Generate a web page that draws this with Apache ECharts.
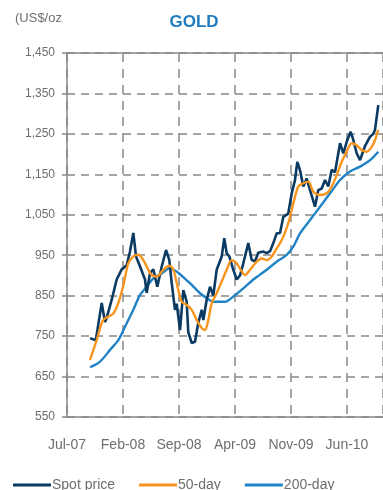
<!DOCTYPE html>
<html>
<head>
<meta charset="utf-8">
<script src="https://cdn.jsdelivr.net/npm/echarts@6/dist/echarts.min.js"></script>
<style>
  html, body { margin: 0; padding: 0; background: #fff; }
  #chart { width: 383px; height: 490px; }
</style>
</head>
<body>
<div id="chart"></div>
<script>
// x values are months elapsed since Jul-07
const monthTicks = ['Jul-07', 'Feb-08', 'Sep-08', 'Apr-09', 'Nov-09', 'Jun-10'];
const tickStep = 7;

// Spot price, US$/oz
const spotPrice = [
  [2.88, 745], [3.6, 740], [4.34, 832], [4.75, 785], [4.96, 795], [5.59, 840],
  [6.21, 890], [6.84, 915], [7.46, 925], [7.88, 960], [8.29, 1005], [8.63, 947],
  [9.13, 922], [9.75, 890], [9.96, 857], [10.38, 906], [10.79, 915], [11.29, 872],
  [11.84, 922], [12.38, 963], [12.79, 938], [13.09, 881], [13.5, 815], [13.71, 830],
  [14.13, 765], [14.54, 864], [14.96, 835], [15.16, 760], [15.59, 733], [16.0, 736],
  [16.41, 783], [16.84, 815], [17.04, 790], [17.46, 840], [17.88, 872], [18.29, 850],
  [18.71, 914], [19.34, 947], [19.66, 992], [19.96, 955], [20.29, 947], [20.79, 914],
  [21.21, 890], [21.63, 900], [22.04, 930], [22.66, 980], [23.09, 938], [23.5, 935],
  [23.91, 956], [24.54, 959], [24.96, 955], [25.38, 960], [25.79, 980], [26.21, 1004],
  [26.63, 1005], [27.04, 1045], [27.66, 1053], [28.09, 1103], [28.5, 1136], [28.79, 1181],
  [29.13, 1160], [29.54, 1120], [29.96, 1140], [30.38, 1111], [31.0, 1070], [31.41, 1111],
  [31.84, 1115], [32.25, 1136], [32.66, 1120], [33.09, 1161], [33.5, 1155], [34.13, 1227],
  [34.54, 1202], [35.04, 1235], [35.46, 1255], [35.79, 1235], [36.21, 1202], [36.63, 1185],
  [37.25, 1220], [37.88, 1243], [38.29, 1250], [38.5, 1260], [38.91, 1321]
];

// 50-day moving average
const ma50 = [
  [2.88, 691], [3.71, 740], [4.54, 790], [5.79, 806], [6.38, 830], [7.04, 875],
  [7.66, 930], [8.29, 947], [8.91, 951], [9.54, 938], [10.16, 914], [10.59, 901],
  [11.21, 897], [12.04, 914], [12.79, 924], [13.29, 915], [13.91, 864], [14.34, 835],
  [14.96, 827], [15.59, 815], [16.21, 790], [16.84, 770], [17.25, 765], [17.66, 790],
  [18.09, 831], [18.71, 856], [19.34, 885], [19.96, 914], [20.59, 938], [21.21, 930],
  [21.84, 910], [22.25, 901], [22.88, 914], [23.71, 934], [24.34, 942], [24.96, 938],
  [25.59, 947], [26.21, 967], [26.63, 980], [27.04, 996], [27.66, 1029], [28.29, 1078],
  [28.91, 1120], [29.54, 1128], [30.16, 1132], [30.79, 1107], [31.63, 1099], [32.46, 1103],
  [33.09, 1120], [33.71, 1148], [34.34, 1181], [34.96, 1206], [35.59, 1227], [36.21, 1222],
  [36.84, 1210], [37.46, 1206], [38.09, 1218], [38.5, 1235], [38.91, 1260]
];

// 200-day moving average
const ma200 = [
  [2.88, 673], [4.13, 687], [5.38, 716], [6.41, 740], [7.25, 773], [8.29, 815],
  [9.13, 852], [9.96, 872], [10.79, 893], [11.84, 905], [12.88, 918], [13.5, 912],
  [14.13, 903], [14.96, 888], [15.38, 881], [16.63, 856], [17.46, 844], [18.29, 835],
  [19.75, 835], [20.79, 848], [22.04, 868], [23.29, 890], [24.13, 902], [24.96, 914],
  [26.21, 934], [27.46, 951], [28.29, 971], [29.13, 1004], [30.38, 1037], [31.63, 1070],
  [32.88, 1103], [34.13, 1136], [35.38, 1157], [36.63, 1169], [37.88, 1185], [38.91, 1206]
];

const FONT = '"Liberation Sans Narrow", "Liberation Sans", Arial, sans-serif';
const GRAY = '#888888';
const TEXT = '#6e6e6e';

const chart = echarts.init(document.getElementById('chart'), null, { renderer: 'canvas' });

chart.setOption({
  animation: false,
  backgroundColor: '#ffffff',
  title: [
    {
      text: 'GOLD', left: 189, top: 9, textAlign: 'center',
      textStyle: { color: '#1f7cc1', fontSize: 17, fontWeight: 'bold', fontFamily: '"Liberation Sans", Arial, sans-serif' }
    },
    {
      text: '(US$/oz', left: 10, top: 7,
      textStyle: { color: TEXT, fontSize: 13, fontWeight: 'normal', fontFamily: FONT }
    }
  ],
  grid: { left: 67, right: 0, top: 53, bottom: 73 },
  legend: {
    bottom: -7, left: 8, itemGap: 24, itemWidth: 38, itemHeight: 3,
    icon: 'rect',
    textStyle: { color: TEXT, fontSize: 14, fontFamily: FONT, padding: [0, 0, 0, -4] },
    data: ['Spot price', '50-day', '200-day']
  },
  xAxis: [
    {
      type: 'value', min: 0, max: 39.5, interval: tickStep,
      axisLine: { show: true, lineStyle: { color: GRAY, width: 1.5 } },
      axisTick: { show: false },
      axisLabel: {
        color: TEXT, fontSize: 14, fontFamily: FONT, margin: 21,
        showMaxLabel: false,
        formatter: v => monthTicks[Math.round(v / tickStep)] || ''
      },
      splitLine: { show: true, lineStyle: { color: GRAY, width: 1.5, type: [9, 7] } }
    },
    {
      type: 'value', position: 'top', min: 0, max: 39.5,
      axisLine: { show: true, lineStyle: { color: GRAY, width: 1.5 } },
      axisTick: { show: false }, axisLabel: { show: false }, splitLine: { show: false }
    }
  ],
  yAxis: {
    type: 'value', min: 550, max: 1450, interval: 100,
    axisLine: { show: true, lineStyle: { color: GRAY, width: 1.5 } },
    axisTick: { show: true, length: 5, lineStyle: { color: GRAY, width: 1.5 } },
    axisLabel: { color: TEXT, fontSize: 12, fontFamily: FONT, margin: 12 },
    splitLine: { show: true, lineStyle: { color: GRAY, width: 1.5, type: [8, 6] } }
  },
  series: [
    {
      name: 'Spot price', type: 'line', data: spotPrice, showSymbol: false,
      lineStyle: { color: '#0b3a63', width: 2.6 }, itemStyle: { color: '#0b3a63' }, z: 3
    },
    {
      name: '50-day', type: 'line', data: ma50, showSymbol: false, smooth: 0.3,
      lineStyle: { color: '#f7941d', width: 2.4 }, itemStyle: { color: '#f7941d' }, z: 4
    },
    {
      name: '200-day', type: 'line', data: ma200, showSymbol: false, smooth: 0.3,
      lineStyle: { color: '#2183c6', width: 2.4 }, itemStyle: { color: '#2183c6' }, z: 2
    }
  ]
});
</script>
</body>
</html>
